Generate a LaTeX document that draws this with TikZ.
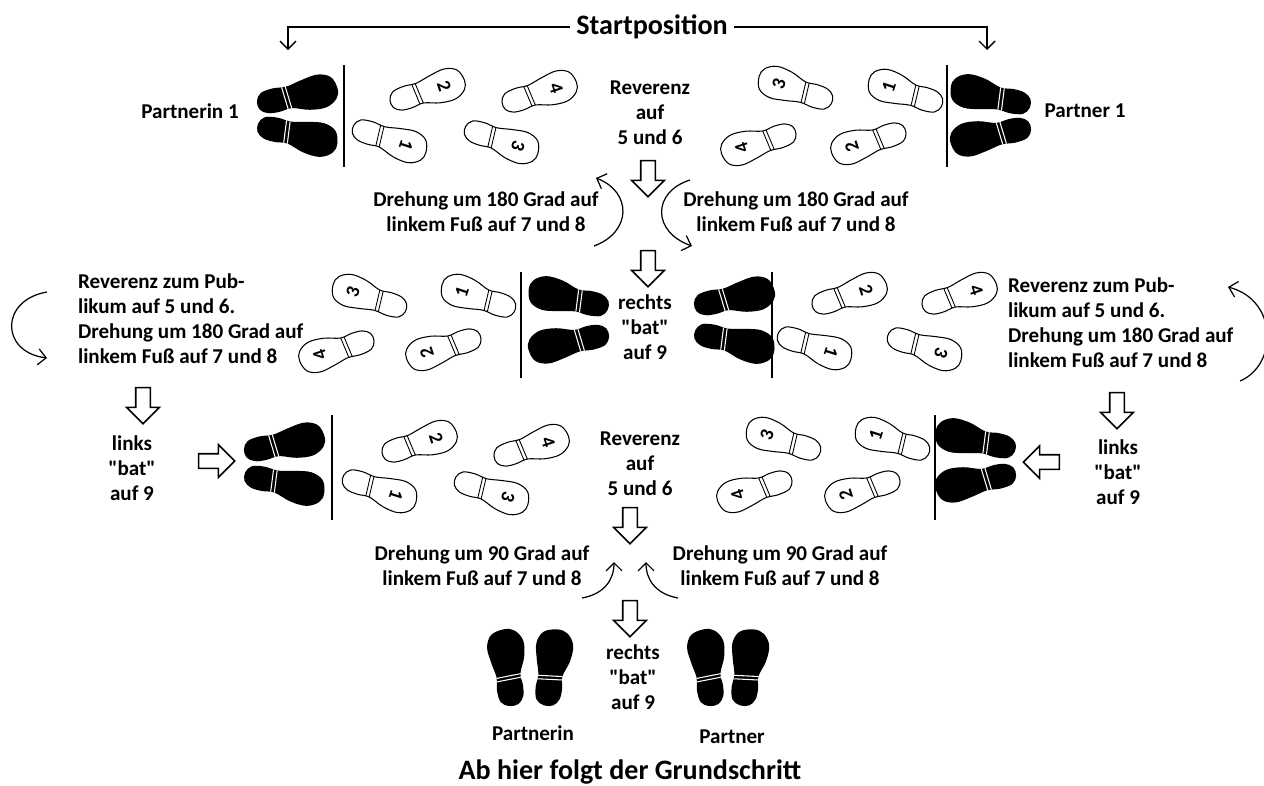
\documentclass[tikz,border=0pt]{standalone}
\usepackage{fontspec}
\setmainfont{Carlito}[Ligatures=TeXOff]
\usetikzlibrary{arrows.meta,shapes.arrows}

% outline of one sole, toe pointing along +x
\def\sohlenform{plot[smooth cycle, tension=0.6] coordinates {(38,1) (35,10) (24,16) (8,15) (-8,10) (-20,11) (-31,10) (-38,5) (-39,-3) (-34,-10) (-22,-12) (-9,-11) (6,-14) (22,-16) (34,-11)}}

% #1 extra options, #2 name, #3 centre, #4 direction of the toe, #5 step number, #6 schwarz/weiss
\newcommand\schuh[6][]{%
  \begin{scope}[shift={#3}, rotate=#4, #1]
    \path[#6] \sohlenform;
    \begin{scope}
      \clip \sohlenform;
      \draw[#6 naht] (-14,-18) -- (-11,18) (-10.5,-18) -- (-7.5,18);
    \end{scope}
    \node[nummer, rotate=#4-90] (#2) at (17,0) {#5};
  \end{scope}}

\begin{document}
\begin{tikzpicture}[
  x=0.02cm, y=-0.02cm,
  font=\bfseries\fontsize{12}{14.2}\selectfont,
  schwarz/.style={fill=black},
  weiss/.style={draw=black, line width=0.6pt, fill=white},
  schwarz naht/.style={white, line width=0.6pt},
  weiss naht/.style={black, line width=0.5pt},
  nummer/.style={font=\bfseries\fontsize{11}{11}\selectfont, inner sep=0pt},
  txt/.style={align=center, inner sep=1pt},
  blockpfeil/.style={single arrow, draw, fill=white, line width=0.9pt, inner sep=0pt,
    text height=0.26cm, text depth=0pt, text width=0pt,
    minimum height=0.72cm, single arrow head extend=0.18cm},
  bogen/.style={-{Straight Barb[length=1.6mm,width=3.2mm]}, line width=0.7pt},
  strich/.style={line width=1.2pt},
  gross/.style={scale=1.06}
]
\useasboundingbox (0,0) rectangle (1264,785);

% heading with the two arrows down to the dancers
\node[font=\bfseries\fontsize{16}{18}\selectfont] (start) at (652,27) {Startposition};
\coordinate (pl) at (288,50);
\coordinate (pr) at (987,50);
\draw[-{Straight Barb[length=1.6mm,width=3.2mm]}, line width=0.8pt] (start.west) -| (pl);
\draw[-{Straight Barb[length=1.6mm,width=3.2mm]}, line width=0.8pt] (start.east) -| (pr);

%% first row
\node[txt] (pn1) at (190,111) {Partnerin 1};
\schuh[gross]{pn1a}{(298,96)}{12}{}{schwarz}
\schuh[gross]{pn1b}{(298,135)}{-12}{}{schwarz}
\draw[strich] (344,65) -- (344,167);
\schuh{a2}{(428,91)}{18}{2}{weiss}
\schuh{a4}{(540,93)}{18}{4}{weiss}
\schuh{a1}{(390,140)}{-18}{1}{weiss}
\schuh{a3}{(502,141)}{-18}{3}{weiss}
\node[txt] (rev1) at (650,113) {Reverenz\\auf\\5 und 6};
\schuh{b3}{(795,89)}{162}{3}{weiss}
\schuh{b1}{(905,92)}{162}{1}{weiss}
\schuh{b4}{(758,143)}{198}{4}{weiss}
\schuh{b2}{(868,142)}{198}{2}{weiss}
\draw[strich] (947,65) -- (947,167);
\schuh[gross]{p1a}{(990,96)}{168}{}{schwarz}
\schuh[gross]{p1b}{(990,135)}{192}{}{schwarz}
\node[txt] (p1) at (1085,111) {Partner 1};

\node[blockpfeil, rotate=-90] (bp1) at (648,175) {};
\node[txt] (dr1) at (486,212) {Drehung um 180 Grad auf\\linkem Fuß auf 7 und 8};
\node[txt] (dr2) at (796,212) {Drehung um 180 Grad auf\\linkem Fuß auf 7 und 8};
\coordinate (bl1) at (594,246);
\coordinate (el1) at (596,178);
\coordinate (bl2) at (690,180);
\coordinate (el2) at (692,246);
\draw[bogen] (bl1) .. controls (632,232) and (632,192) .. (el1);
\draw[bogen] (bl2) .. controls (652,192) and (652,232) .. (el2);
\node[blockpfeil, rotate=-90] (bp2) at (648,265) {};

%% second row
\node[txt, align=left, anchor=west] (pub1) at (76,319) {Reverenz zum Pub-\\likum auf 5 und 6.\\Drehung um 180 Grad auf\\linkem Fuß auf 7 und 8};
\coordinate (bl3) at (47,292);
\coordinate (el3) at (47,358);
\draw[bogen] (bl3) .. controls (0,300) and (0,352) .. (el3);
\schuh{c3}{(369,297)}{162}{3}{weiss}
\schuh{c1}{(478,297)}{162}{1}{weiss}
\schuh{c4}{(336,350)}{198}{4}{weiss}
\schuh{c2}{(443,348)}{198}{2}{weiss}
\draw[strich] (521,272) -- (521,378);
\schuh[gross]{pn2a}{(568,298)}{168}{}{schwarz}
\schuh[gross]{pn2b}{(568,342)}{192}{}{schwarz}
\node[txt] (bat1) at (645,327) {rechts\\"bat"\\auf 9};
\schuh[gross]{p2a}{(735,298)}{12}{}{schwarz}
\schuh[gross]{p2b}{(735,342)}{-12}{}{schwarz}
\draw[strich] (772,272) -- (772,378);
\schuh{d2}{(850,295)}{18}{2}{weiss}
\schuh{d4}{(960,295)}{18}{4}{weiss}
\schuh{d1}{(815,347)}{-18}{1}{weiss}
\schuh{d3}{(925,348)}{-18}{3}{weiss}
\node[txt, align=left, anchor=west] (pub2) at (1006,323) {Reverenz zum Pub-\\likum auf 5 und 6.\\Drehung um 180 Grad auf\\linkem Fuß auf 7 und 8};
\coordinate (bl4) at (1240,381);
\coordinate (el4) at (1228,287);
\draw[bogen] (bl4) .. controls (1278,365) and (1278,300) .. (el4);

\node[blockpfeil, rotate=-90] (bp3) at (143,402) {};
\node[blockpfeil, rotate=-90] (bp4) at (1117,407) {};

%% third row
\node[txt] (bat2) at (132,468) {links\\"bat"\\auf 9};
\node[blockpfeil] (bp5) at (213,461) {};
\schuh[gross]{pn3a}{(285,444)}{12}{}{schwarz}
\schuh[gross]{pn3b}{(285,484)}{-12}{}{schwarz}
\draw[strich] (332,415) -- (332,520);
\schuh{e2}{(420,443)}{18}{2}{weiss}
\schuh{e4}{(532,447)}{18}{4}{weiss}
\schuh{e1}{(380,490)}{-18}{1}{weiss}
\schuh{e3}{(492,492)}{-18}{3}{weiss}
\node[txt] (rev2) at (640,464) {Reverenz\\auf\\5 und 6};
\schuh{f3}{(783,440)}{162}{3}{weiss}
\schuh{f1}{(892,440)}{162}{1}{weiss}
\schuh{f4}{(754,490)}{198}{4}{weiss}
\schuh{f2}{(862,490)}{198}{2}{weiss}
\draw[strich] (935,415) -- (935,520);
\schuh[gross]{p3a}{(975,440)}{168}{}{schwarz}
\schuh[gross]{p3b}{(975,481)}{192}{}{schwarz}
\node[blockpfeil, rotate=180] (bp6) at (1045,462) {};
\node[txt] (bat3) at (1118,472) {links\\"bat"\\auf 9};

\node[blockpfeil, rotate=-90] (bp7) at (630,522) {};
\node[txt] (dr3) at (482,566) {Drehung um 90 Grad auf\\linkem Fuß auf 7 und 8};
\node[txt] (dr4) at (780,566) {Drehung um 90 Grad auf\\linkem Fuß auf 7 und 8};
\coordinate (bl5) at (582,598);
\coordinate (el5) at (614,562);
\coordinate (bl6) at (678,598);
\coordinate (el6) at (646,562);
\draw[bogen] (bl5) .. controls (604,594) and (614,580) .. (el5);
\draw[bogen] (bl6) .. controls (656,594) and (646,580) .. (el6);
\node[blockpfeil, rotate=-90] (bp8) at (630,615) {};

%% final position
\schuh[yscale=1.15]{pn4a}{(508,667)}{97}{}{schwarz}
\schuh[yscale=1.15]{pn4b}{(552,667)}{83}{}{schwarz}
\node[txt] (bat4) at (633,677) {rechts\\"bat"\\auf 9};
\schuh[yscale=1.15]{p4a}{(708,667)}{97}{}{schwarz}
\schuh[yscale=1.15]{p4b}{(748,667)}{83}{}{schwarz}
\node[txt] (pn) at (533,733) {Partnerin};
\node[txt] (p) at (732,737) {Partner};
\node[font=\bfseries\fontsize{16}{18}\selectfont] (grund) at (630,772) {Ab hier folgt der Grundschritt};
\end{tikzpicture}
\end{document}
